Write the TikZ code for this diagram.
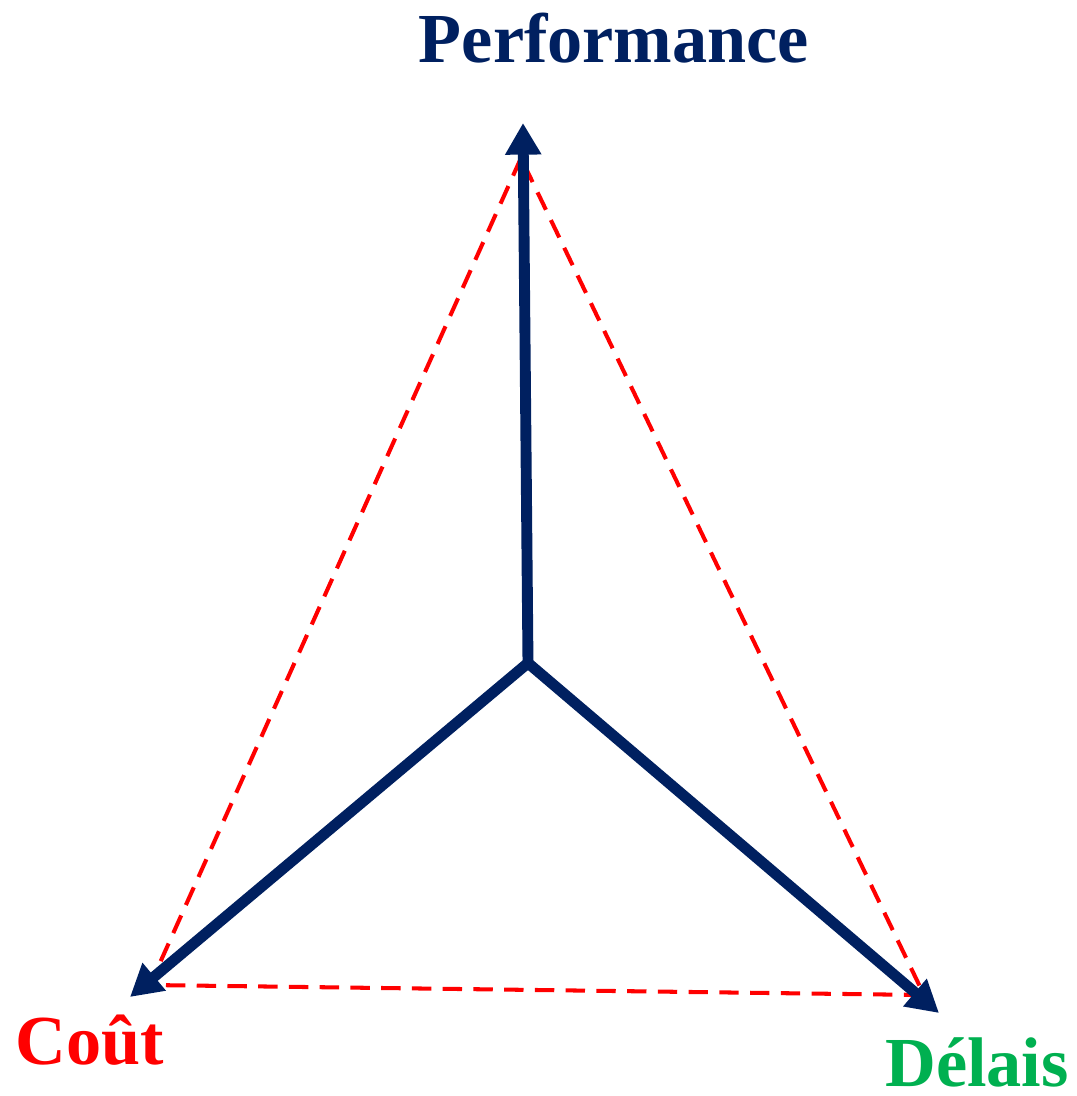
\documentclass[tikz,border=0pt]{standalone}
\usepackage{fontspec}
\setmainfont{Liberation Serif}
\usetikzlibrary{arrows.meta}
\definecolor{NavyAxis}{RGB}{0,32,96}
\definecolor{CostRed}{RGB}{255,0,0}
\definecolor{DelayGreen}{RGB}{0,176,80}
\tikzset{
	axis/.style={draw=NavyAxis,line width=6.2pt,line join=miter,
		-{Triangle[length=18pt,width=19.5pt]}},
	tri/.style={draw=CostRed,line width=2.3pt,dash pattern=on 11pt off 6.5pt},
	lab/.style={font=\fontsize{40}{44}\selectfont\bfseries,anchor=base,inner sep=0pt},
}
\begin{document}
\begin{tikzpicture}[x=0.02cm,y=-0.02cm]
	\useasboundingbox (0,0) rectangle (1076,1096);
	% axis ends
	\coordinate (o) at (528,663);
	\coordinate (perfTip) at (523,123);
	\coordinate (coutTip) at (130,997);
	\coordinate (delaisTip) at (939,1013);
	% corners of the dashed triangle
	\coordinate (perfV) at (521,158);
	\coordinate (coutV) at (150,985);
	\coordinate (delaisV) at (924,995);
	\draw[tri] (perfV) -- (coutV) -- (delaisV) -- cycle;
	\draw[axis] (o) -- (perfTip);
	\draw[axis] (o) -- (coutTip);
	\draw[axis] (o) -- (delaisTip);
	\node[lab,text=NavyAxis] (perf) at (614,62) {Performance};
	\node[lab,text=CostRed] (cout) at (90,1064) {Coût};
	\node[lab,text=DelayGreen] (delais) at (977,1086) {Délais};
\end{tikzpicture}
\end{document}
